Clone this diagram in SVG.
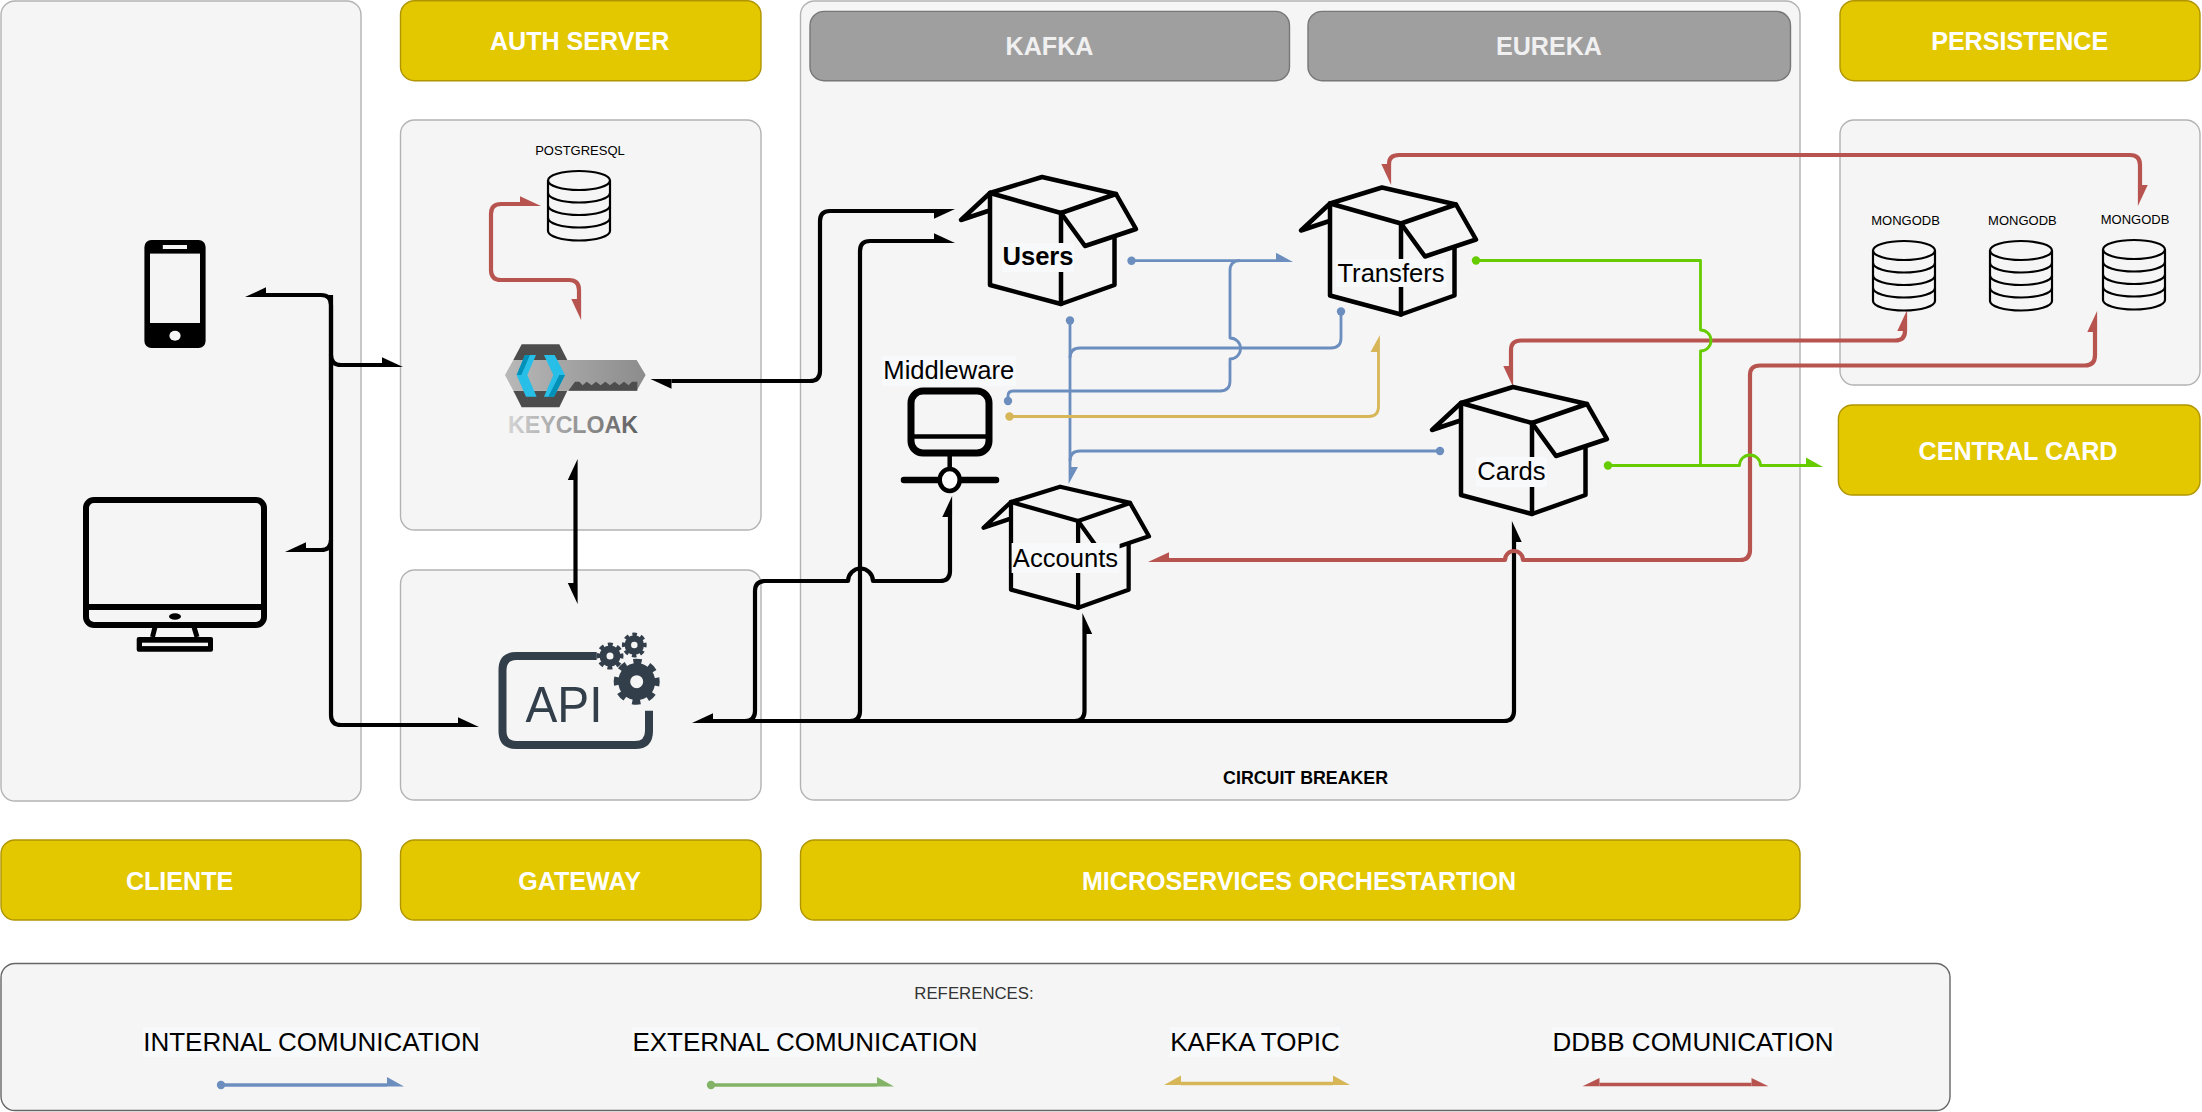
<svg xmlns="http://www.w3.org/2000/svg" width="2202" height="1112" viewBox="0 0 2202 1112">
<style>
text{font-family:"Liberation Sans",Arial,sans-serif;text-anchor:middle}
.panel{fill:#f5f5f5;stroke:#b3b3b3;stroke-width:1.4}
.ref{fill:#f5f5f5;stroke:#666;stroke-width:1.4}
.hdr{fill:#e3c800;stroke:#b09500;stroke-width:1.4}
.gry{fill:#9f9f9f;stroke:#777;stroke-width:1.4}
.ht{font-size:25.1px;font-weight:bold;fill:#fff}
.gt{font-size:25.1px;font-weight:bold;fill:#f0f0f0}
.lb{font-size:25.6px;fill:#000}
.lg{font-size:26px;fill:#000}
.db{font-size:13px;fill:#000}
.bg{fill:#f8f9fa}
.pk{fill:none;stroke:#000;stroke-width:4.5;stroke-linejoin:round;stroke-linecap:round}
.dbi{fill:none;stroke:#000;stroke-width:2.2}
.c{fill:none;stroke-linejoin:round}
.k{stroke:#000;stroke-width:4.2}
.r{stroke:#b85450;stroke-width:4.2}
.b{stroke:#6c8ebf;stroke-width:2.8}
.g{stroke:#66cc00;stroke-width:2.8}
.y{stroke:#d6b656;stroke-width:2.8}
.le{stroke-width:3.6}
.gear{fill:none;stroke:#323f4b}
</style>
<defs>
<marker id="kL" markerUnits="userSpaceOnUse" markerWidth="30" markerHeight="30" orient="auto" overflow="visible"><polygon points="0,-7.7 21,2.1 0,2.1" fill="#000"/></marker>
<marker id="kR" markerUnits="userSpaceOnUse" markerWidth="30" markerHeight="30" orient="auto" overflow="visible"><polygon points="0,7.7 21,-2.1 0,-2.1" fill="#000"/></marker>
<marker id="rL" markerUnits="userSpaceOnUse" markerWidth="30" markerHeight="30" orient="auto" overflow="visible"><polygon points="0,-7.7 21,2.1 0,2.1" fill="#b85450"/></marker>
<marker id="rR" markerUnits="userSpaceOnUse" markerWidth="30" markerHeight="30" orient="auto" overflow="visible"><polygon points="0,7.7 21,-2.1 0,-2.1" fill="#b85450"/></marker>
<marker id="bL" markerUnits="userSpaceOnUse" markerWidth="30" markerHeight="30" orient="auto" overflow="visible"><polygon points="0,-8 17,1.4 0,1.4" fill="#6c8ebf"/></marker>
<marker id="gL" markerUnits="userSpaceOnUse" markerWidth="30" markerHeight="30" orient="auto" overflow="visible"><polygon points="0,-8 17,1.4 0,1.4" fill="#66cc00"/></marker>
<marker id="yL" markerUnits="userSpaceOnUse" markerWidth="30" markerHeight="30" orient="auto" overflow="visible"><polygon points="0,-8 17,1.4 0,1.4" fill="#d6b656"/></marker>
<marker id="eL" markerUnits="userSpaceOnUse" markerWidth="30" markerHeight="30" orient="auto" overflow="visible"><polygon points="0,-8 17,1.4 0,1.4" fill="#82b366"/></marker>
<marker id="yR" markerUnits="userSpaceOnUse" markerWidth="30" markerHeight="30" orient="auto" overflow="visible"><polygon points="0,8 17,-1.4 0,-1.4" fill="#d6b656"/></marker>
<marker id="bD" markerUnits="userSpaceOnUse" markerWidth="12" markerHeight="12" orient="auto" overflow="visible"><circle r="4.2" fill="#6c8ebf"/></marker>
<marker id="gD" markerUnits="userSpaceOnUse" markerWidth="12" markerHeight="12" orient="auto" overflow="visible"><circle r="4.2" fill="#66cc00"/></marker>
<marker id="yD" markerUnits="userSpaceOnUse" markerWidth="12" markerHeight="12" orient="auto" overflow="visible"><circle r="4.2" fill="#d6b656"/></marker>
<marker id="eD" markerUnits="userSpaceOnUse" markerWidth="12" markerHeight="12" orient="auto" overflow="visible"><circle r="4.2" fill="#82b366"/></marker>
<g id="pkg" class="pk">
<path d="M0 0L52 -16L126 1L71 20Z"/>
<path d="M126 1L146 36L95 53L71 20"/>
<path d="M0 0L-29 27L-2 18"/>
<path d="M0 0V92L71 111L124.5 92V44"/>
<path d="M71 20V111"/>
</g>
<g id="cyl" class="dbi">
<ellipse cx="31" cy="9.5" rx="31" ry="9.5"/>
<path d="M0 9.5V60A31 9.5 0 0 0 62 60V9.5"/>
<path d="M0 22A31 9.5 0 0 0 62 22M0 34.5A31 9.5 0 0 0 62 34.5M0 47A31 9.5 0 0 0 62 47"/>
</g>
<linearGradient id="kct" gradientUnits="userSpaceOnUse" x1="508" y1="0" x2="638" y2="0"><stop offset="0" stop-color="#d4d4d4"/><stop offset="1" stop-color="#5f5f5f"/></linearGradient>
<linearGradient id="kbody" gradientUnits="userSpaceOnUse" x1="75" y1="0" x2="497" y2="0"><stop offset="0" stop-color="#b8b8b8"/><stop offset="1" stop-color="#8c8c8c"/></linearGradient>
</defs>

<g id="panels">
<rect id="panel-cliente" class="panel" x="1" y="1" width="360" height="800" rx="14"/>
<rect id="panel-auth" class="panel" x="400.5" y="120" width="360.5" height="410" rx="14"/>
<rect id="panel-gateway" class="panel" x="400.5" y="570" width="360.5" height="230" rx="14"/>
<rect id="panel-micro" class="panel" x="800.5" y="1" width="999.5" height="799" rx="14"/>
<rect id="panel-persistence" class="panel" x="1840" y="120" width="360" height="265" rx="14"/>
</g>

<g id="header-auth"><rect class="hdr" x="400.5" y="0.7" width="360.5" height="80" rx="14"/><text class="ht" x="579.6" y="50">AUTH SERVER</text></g>
<g id="header-persistence"><rect class="hdr" x="1840" y="0.7" width="360" height="80" rx="14"/><text class="ht" x="2019.7" y="50">PERSISTENCE</text></g>
<g id="header-central"><rect class="hdr" x="1838.4" y="405" width="361.6" height="90" rx="14"/><text class="ht" x="2018" y="459.5">CENTRAL CARD</text></g>
<g id="header-cliente"><rect class="hdr" x="1" y="840" width="360" height="80" rx="14"/><text class="ht" x="179.6" y="889.5">CLIENTE</text></g>
<g id="header-gateway"><rect class="hdr" x="400.5" y="840" width="360.5" height="80" rx="14"/><text class="ht" x="579.6" y="889.5">GATEWAY</text></g>
<g id="header-micro"><rect class="hdr" x="800.5" y="840" width="999.5" height="80" rx="14"/><text class="ht" x="1299" y="889.5">MICROSERVICES ORCHESTARTION</text></g>
<g id="kafka"><rect class="gry" x="810" y="11.4" width="479.5" height="69.3" rx="14"/><text class="gt" x="1049.5" y="55">KAFKA</text></g>
<g id="eureka"><rect class="gry" x="1308" y="11.4" width="482.5" height="69.3" rx="14"/><text class="gt" x="1549" y="55">EUREKA</text></g>
<text id="circuit-breaker" x="1305.6" y="784.3" font-size="17.8" font-weight="bold">CIRCUIT BREAKER</text>

<g id="connectors">
<path class="c k" d="M331 400V305Q331 295 321 295H266" marker-end="url(#kR)"/>
<path class="c k" d="M331 355Q331 365 341 365H382" marker-end="url(#kL)"/>
<path class="c k" d="M331 540Q331 550 321 550H306" marker-end="url(#kR)"/>
<path class="c k" d="M331 295V715Q331 725 341 725H458" marker-end="url(#kL)"/>
<path class="c k" d="M575.5 530V480" marker-end="url(#kL)"/>
<path class="c k" d="M575.5 530V583" marker-end="url(#kR)"/>
<path class="c k" d="M820 300V371Q820 381 810 381H671.5" marker-end="url(#kL)"/>
<path class="c k" d="M820 300V221Q820 211 830 211H934" marker-end="url(#kR)"/>
<path class="c k" d="M755 650V591Q755 581 765 581H848A12.5 12.5 0 0 1 873 581H940Q950 581 950 571V517" marker-end="url(#kL)"/>
<path class="c k" d="M755 650V711Q755 721 745 721H713" marker-end="url(#kR)"/>
<path class="c k" d="M745 721H1504Q1514 721 1514 711V542" marker-end="url(#kR)"/>
<path class="c k" d="M1074.5 721Q1084.5 721 1084.5 711V634" marker-end="url(#kR)"/>
<path class="c k" d="M850 721Q860 721 860 711V251Q860 241 870 241H934" marker-end="url(#kL)"/>

<path class="c r" d="M491 240V214Q491 204 501 204H520" marker-end="url(#rL)"/>
<path class="c r" d="M491 240V270Q491 280 501 280H569Q579 280 579 290V299" marker-end="url(#rR)"/>
<path class="c r" d="M1800 155H1399Q1389 155 1389 164" marker-end="url(#rR)"/>
<path class="c r" d="M1800 155H2130Q2140 155 2140 165V185" marker-end="url(#rL)"/>
<path class="c r" d="M1700 340.5H1521Q1511 340.5 1511 350V366" marker-end="url(#rR)"/>
<path class="c r" d="M1700 340.5H1895Q1905 340.5 1905 331" marker-end="url(#rL)"/>
<path class="c r" d="M1750 460V550Q1750 560 1740 560H1523A9 9 0 0 0 1505 560H1169" marker-end="url(#rR)"/>
<path class="c r" d="M1750 460V375Q1750 365.5 1760 365.5H2085Q2095 365.5 2095 355V332" marker-end="url(#rL)"/>

<path class="c g" d="M1476 260.5H1700.5V330A10.5 10.5 0 0 1 1700.5 351V465.5" marker-start="url(#gD)"/>
<path class="c g" d="M1608 465.5H1739.5A10.5 10.5 0 0 1 1760.5 465.5H1806" marker-start="url(#gD)" marker-end="url(#gL)"/>

<path class="c b" d="M1131.5 260.7H1276" marker-start="url(#bD)" marker-end="url(#bL)"/>
<path class="c b" d="M1008 401V396Q1008 391 1013 391H1220Q1230 391 1230 381V359A10.5 10.5 0 0 0 1230 338V270.7Q1230 260.7 1240 260.7" marker-start="url(#bD)"/>
<path class="c b" d="M1070 320.5V467" marker-start="url(#bD)" marker-end="url(#bL)"/>
<path class="c b" d="M1341 311.5V338Q1341 348 1331 348H1080Q1070 348 1070 358" marker-start="url(#bD)"/>
<path class="c b" d="M1440 451H1080Q1070 451 1070 461" marker-start="url(#bD)"/>

<path class="c y" d="M1009.5 416.5H1368.5Q1378.5 416.5 1378.5 406.5V352" marker-start="url(#yD)" marker-end="url(#yL)"/>
</g>

<g id="phone">
<rect x="144.4" y="240" width="61.2" height="108" rx="7" fill="#000"/>
<rect x="150" y="253.6" width="50" height="69.4" fill="#f5f5f5"/>
<rect x="162.8" y="245" width="24.2" height="4" fill="#f5f5f5"/>
<ellipse cx="175" cy="335.7" rx="5.6" ry="5" fill="#f5f5f5"/>
</g>

<g id="desktop">
<rect x="86" y="500" width="178" height="125" rx="8" fill="none" stroke="#000" stroke-width="6"/>
<rect x="83" y="604" width="184" height="6" fill="#000"/>
<ellipse cx="175" cy="616.5" rx="6" ry="3.2" fill="#000"/>
<path d="M155 627L152.5 637M194 627L197 637" stroke="#000" stroke-width="5" fill="none"/>
<rect x="136.7" y="637" width="76.3" height="14.7" rx="2" fill="#000"/>
<rect x="142" y="642.7" width="66" height="3.4" fill="#f5f5f5"/>
</g>

<g id="postgres"><text class="db" x="580" y="155">POSTGRESQL</text><use href="#cyl" x="548" y="171"/></g>

<g id="keycloak">
<g transform="translate(480 320) scale(.3333)">
<polygon points="100,120 125,73 238,73 262,120" fill="#4d4d4d"/>
<polygon points="100,212 262,212 238,262 125,262" fill="#4d4d4d"/>
<polygon points="75,165 100,120 470,120 497,165 470,212 100,212" fill="url(#kbody)"/>
<path d="M265 212L285 185H298L308 196L320 185L335 196L348 185L362 196L376 185L390 196L404 185L418 196L432 185L446 196L456 185H472V212Z" fill="#4d4d4d"/>
<polygon points="135,105 168,105 142,165 170,230 138,230 110,165" fill="#27bfe8"/>
<polygon points="135,105 150,105 124,165 110,165" fill="#0090b8"/>
<polygon points="192,105 224,105 255,165 222,230 192,230 220,165" fill="#27bfe8"/>
<polygon points="255,165 222,230 205,230 238,165" fill="#0090b8"/>
</g>
<text x="573" y="433" font-size="24" font-weight="bold" fill="url(#kct)" textLength="130" lengthAdjust="spacingAndGlyphs">KEYCLOAK</text>
</g>

<g id="api">
<path d="M596.7 656H516.5Q502.5 656 502.5 670V731Q502.5 745 516.5 745H635Q649 745 649 731V710.7" fill="none" stroke="#323f4b" stroke-width="8"/>
<text x="564" y="721.7" font-size="50" fill="#323f4b" textLength="77" lengthAdjust="spacingAndGlyphs">API</text>
<circle class="gear" cx="636.7" cy="681.7" r="12.5" stroke-width="12"/>
<circle class="gear" cx="636.7" cy="681.7" r="20" stroke-width="6" stroke-dasharray="8 7.71" transform="rotate(-11 636.7 681.7)"/>
<circle class="gear" cx="610" cy="656" r="7" stroke-width="7"/>
<circle class="gear" cx="610" cy="656" r="11.5" stroke-width="4" stroke-dasharray="4.8 4.23" transform="rotate(-12 610 656)"/>
<circle class="gear" cx="634.3" cy="645" r="6.5" stroke-width="6.5"/>
<circle class="gear" cx="634.3" cy="645" r="10.5" stroke-width="3.8" stroke-dasharray="4.4 3.85" transform="rotate(-12 634.3 645)"/>
</g>

<g id="users"><use href="#pkg" transform="translate(990 193)"/><rect class="bg" x="1002" y="243" width="72" height="29"/><text class="lb" x="1038" y="265" font-weight="bold">Users</text></g>
<g id="transfers"><use href="#pkg" transform="translate(1330 203.5)"/><rect class="bg" x="1336" y="259" width="110" height="28"/><text class="lb" x="1391" y="281.5">Transfers</text></g>
<g id="cards"><use href="#pkg" transform="translate(1461 403)"/><rect class="bg" x="1476" y="457" width="71" height="30"/><text class="lb" x="1511.5" y="480">Cards</text></g>
<g id="accounts"><use href="#pkg" transform="translate(1011 502) scale(.945 .953)"/><rect class="bg" x="1011.6" y="543" width="108" height="30"/><text class="lb" x="1065.5" y="566.7">Accounts</text></g>

<g id="middleware">
<rect class="bg" x="882" y="356" width="134" height="30"/>
<text class="lb" x="948.8" y="379">Middleware</text>
<rect x="911" y="391" width="78" height="62" rx="12" fill="none" stroke="#000" stroke-width="7"/>
<path d="M911 436.5H989M949.7 454V470" stroke="#000" stroke-width="4.5" fill="none"/>
<path d="M904 480H996" stroke="#000" stroke-width="6.5" stroke-linecap="round" fill="none"/>
<ellipse cx="949.7" cy="480" rx="10" ry="11" fill="#fff" stroke="#000" stroke-width="4.5"/>
</g>

<g id="mongo-1"><text class="db" x="1905.5" y="225" font-size="12.5">MONGODB</text><use href="#cyl" x="1873" y="241"/></g>
<g id="mongo-2"><text class="db" x="2022.4" y="225" font-size="12.5">MONGODB</text><use href="#cyl" x="1990" y="241"/></g>
<g id="mongo-3"><text class="db" x="2135" y="224" font-size="12.5">MONGODB</text><use href="#cyl" x="2103" y="240"/></g>

<g id="references">
<rect class="ref" x="1" y="963.5" width="1949" height="147" rx="14"/>
<text x="974" y="999" font-size="16.8" fill="#333">REFERENCES:</text>
<rect class="bg" x="143" y="1027" width="337" height="30"/><text class="lg" x="311.5" y="1050.7">INTERNAL COMUNICATION</text>
<rect class="bg" x="632" y="1027" width="346" height="30"/><text class="lg" x="805" y="1050.7">EXTERNAL COMUNICATION</text>
<rect class="bg" x="1170" y="1027" width="170" height="30"/><text class="lg" x="1255" y="1050.7">KAFKA TOPIC</text>
<rect class="bg" x="1552" y="1027" width="282" height="30"/><text class="lg" x="1693" y="1050.7">DDBB COMUNICATION</text>
<path class="c b le" d="M221 1085H387" marker-start="url(#bD)" marker-end="url(#bL)"/>
<path class="c le" stroke="#82b366" d="M711 1085H877" marker-start="url(#eD)" marker-end="url(#eL)"/>
<path class="c y le" d="M1257 1083.5H1333" marker-end="url(#yL)"/>
<path class="c y le" d="M1257 1083.5H1181" marker-end="url(#yR)"/>
<path class="c r le" d="M1675 1084.5H1751.5" marker-end="url(#yLr)"/>
<path class="c r le" d="M1675 1084.5H1599.5" marker-end="url(#yRr)"/>
</g>
<defs>
<marker id="yLr" markerUnits="userSpaceOnUse" markerWidth="30" markerHeight="30" orient="auto" overflow="visible"><polygon points="0,-6.5 17,1.8 0,1.8" fill="#b85450"/></marker>
<marker id="yRr" markerUnits="userSpaceOnUse" markerWidth="30" markerHeight="30" orient="auto" overflow="visible"><polygon points="0,6.5 17,-1.8 0,-1.8" fill="#b85450"/></marker>
</defs>
</svg>
